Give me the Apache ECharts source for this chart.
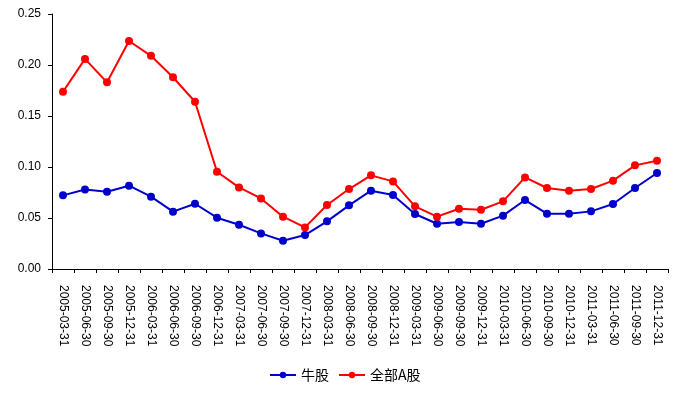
<!DOCTYPE html>
<html><head><meta charset="utf-8">
<script src="https://cdn.jsdelivr.net/npm/echarts@6/dist/echarts.min.js"></script>
<style>html,body{margin:0;padding:0;background:#fff}#c{width:675px;height:393px}</style>
</head><body><div id="c"></div>
<script>
var categories = ['2005-03-31','2005-06-30','2005-09-30','2005-12-31','2006-03-31','2006-06-30','2006-09-30','2006-12-31','2007-03-31','2007-06-30','2007-09-30','2007-12-31','2008-03-31','2008-06-30','2008-09-30','2008-12-31','2009-03-31','2009-06-30','2009-09-30','2009-12-31','2010-03-31','2010-06-30','2010-09-30','2010-12-31','2011-03-31','2011-06-30','2011-09-30','2011-12-31'];
var bullStocks = [0.0722,0.078,0.0758,0.0817,0.0709,0.0562,0.064,0.0503,0.0434,0.0349,0.0277,0.0333,0.0467,0.0624,0.0768,0.0725,0.0539,0.0444,0.0461,0.0444,0.0523,0.0676,0.0542,0.0542,0.0565,0.0637,0.0794,0.0941];
var allAShares = [0.1738,0.206,0.183,0.2235,0.209,0.188,0.164,0.0954,0.080,0.0692,0.0513,0.0408,0.0627,0.0784,0.0918,0.0859,0.0614,0.0513,0.0591,0.0581,0.0663,0.0898,0.0794,0.0768,0.0784,0.0866,0.1016,0.1062];
var seriesNames = ['牛股','全部A股'];
var yTicks = [0, 0.25, 0.05];

var chart = echarts.init(document.getElementById('c'), null, {renderer:'canvas'});
var font = 'Liberation Sans, Arial, sans-serif';
chart.setOption({
  animation:false,
  backgroundColor:'#fff',
  grid:{left:52,right:7,top:14,bottom:124,containLabel:false},
  legend:{
    data:seriesNames, bottom:6, left:264, itemWidth:26, itemHeight:8, itemGap:9,
    textStyle:{fontFamily:'Noto Sans CJK SC, sans-serif', fontSize:14, color:'#000'}
  },
  xAxis:{
    type:'category', data:categories, boundaryGap:true,
    axisLine:{lineStyle:{color:'#000',width:1}},
    axisTick:{show:true,alignWithLabel:false,length:4,lineStyle:{color:'#000'}},
    axisLabel:{rotate:-90,interval:0,fontSize:12,color:'#000',fontFamily:font,margin:16}
  },
  yAxis:{
    type:'value', min:yTicks[0], max:yTicks[1], interval:yTicks[2],
    splitLine:{show:false},
    axisLine:{show:true,lineStyle:{color:'#000',width:1}},
    axisTick:{show:true,length:4,lineStyle:{color:'#000'}},
    axisLabel:{fontSize:12,color:'#000',fontFamily:font,margin:11,formatter:function(v){return v.toFixed(2);}}
  },
  series:[
    {name:seriesNames[0],type:'line',data:bullStocks,symbol:'circle',symbolSize:8,
     lineStyle:{color:'#0000CC',width:2},itemStyle:{color:'#0000CC'}},
    {name:seriesNames[1],type:'line',data:allAShares,symbol:'circle',symbolSize:8,
     lineStyle:{color:'#FF0000',width:2},itemStyle:{color:'#FF0000'}}
  ]
});
</script></body></html>
